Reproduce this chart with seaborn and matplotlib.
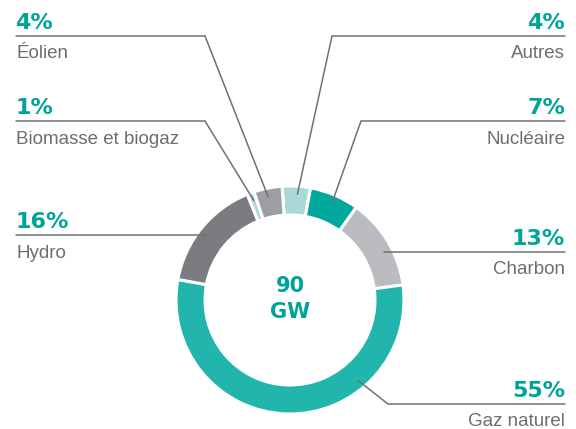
import numpy as np
import matplotlib.pyplot as plt
import seaborn as sns

# data
labels = ['Autres', 'Nucléaire', 'Charbon', 'Gaz naturel', 'Hydro',
          'Biomasse et biogaz', 'Éolien']
values = [4, 7, 13, 55, 16, 1, 4]
total_text = ['90', 'GW']

# styles / layout (pixel coords, y from top)
colors = ['#a9d9d6', '#00a99b', '#bbbcbf', '#22b5ae', '#7b7c80', '#a9d9d6', '#9d9ea2']
anchor_angle = [86, 66.6, 27, -49.7, 142.6, 110, 102]
elbows = [(332, 36), (361, 121), None, (388, 404), None, (205, 121), (205, 36)]
line_y = [36, 121, 252, 404, 235, 121, 36]
side = ['R', 'R', 'R', 'R', 'L', 'L', 'L']

W, H = 576, 429
cx, cy, R, ring = 290, 300, 114, 29
teal = '#00a397'
gray_txt = '#6d6e71'
line_c = '#6f7073'

sns.set_theme(style='white')
plt.rcParams['font.family'] = ['Liberation Sans', 'DejaVu Sans']
bold_font = ['DejaVu Sans']

fig = plt.figure(figsize=(5.76, 4.29), dpi=100)
ax = fig.add_axes([0, 0, 1, 1])

ax.pie(values, colors=colors, startangle=94, counterclock=False,
       center=(cx, H - cy), radius=R,
       wedgeprops=dict(width=ring, edgecolor='white', linewidth=2.2))

ax.text(cx, H - 286, total_text[0], ha='center', va='center', family=bold_font,
        fontsize=15, fontweight='bold', color=teal)
ax.text(cx, H - 312, total_text[1], ha='center', va='center', family=bold_font,
        fontsize=15, fontweight='bold', color=teal)

for lab, v, ang, el, ly, s in zip(labels, values, anchor_angle, elbows, line_y, side):
    a = np.deg2rad(ang)
    axp = cx + 106 * np.cos(a)
    ayp = (H - cy) + 106 * np.sin(a)
    if el is None:
        ex, ey = axp, H - ly
    else:
        ex, ey = el[0], H - el[1]
    if s == 'L':
        xs = [16, ex, axp]
        tx, ha = 15, 'left'
    else:
        xs = [565, ex, axp]
        tx, ha = 565, 'right'
    ax.plot(xs, [ey, ey, ayp], color=line_c, lw=1.1, solid_joinstyle='miter')
    ax.text(tx, ey + 7, f'{v}%', ha=ha, va='baseline', fontsize=16,
            family=bold_font, fontweight='bold', color=teal)
    ax.text(tx + (1 if s == 'L' else 0), ey - 22.5, lab, ha=ha, va='baseline',
            fontsize=13.5, color=gray_txt)

ax.set_xlim(0, W)
ax.set_ylim(0, H)
ax.axis('off')

fig.savefig('out.png', dpi=100)
